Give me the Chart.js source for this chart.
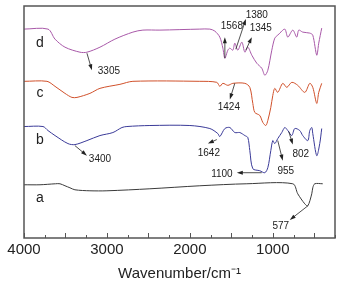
<!DOCTYPE html>
<html>
<head>
<meta charset="utf-8">
<script src="https://cdn.jsdelivr.net/npm/chart.js@4"></script>
<style>
  html, body { margin: 0; padding: 0; background: #fff; }
  #box { width: 359px; height: 283px; }
</style>
</head>
<body>
<div id="box"><canvas id="myChart"></canvas></div>
<script>
// spectra (wavenumber / transmittance, arbitrary units)
var aWave = [4000, 3807, 3620, 3566, 3506, 3446, 3386, 3205, 3000, 2482, 1880, 1313, 759, 699, 614, 578, 530, 518, 494, 398];
var aVal  = [53, 53, 54, 54, 52, 50, 48, 47, 47, 49, 52, 54, 54, 44, 34, 32, 44, 50, 54, 54];

var bWave = [4000, 3771, 3711, 3626, 3470, 3386, 3241, 3084, 2928, 2819, 2759, 2482, 2000, 1759, 1663, 1639, 1578, 1518, 1458, 1398, 1337, 1301, 1277, 1241, 1157, 1096, 1060, 1024, 1000, 976, 940, 892, 855, 819, 771, 735, 675, 639, 578, 554, 530, 518, 470, 434, 410];
var bVal  = [111, 111, 107, 102, 94, 93, 97, 102, 105, 110, 111, 112, 112, 109, 104, 101, 109, 110, 105, 105, 102, 100, 87, 69, 67, 65, 70, 87, 97, 94, 99, 105, 110, 107, 102, 109, 107, 102, 97, 107, 110, 104, 82, 94, 109];

var cWave = [4000, 3723, 3626, 3506, 3422, 3361, 3205, 3084, 2843, 2687, 1880, 1675, 1639, 1602, 1542, 1482, 1337, 1277, 1241, 1217, 1157, 1120, 1084, 1060, 1024, 1000, 976, 940, 880, 831, 771, 699, 614, 554, 518, 470, 446, 410];
var cVal  = [156, 156, 151, 144, 140, 140, 144, 149, 153, 156, 156, 155, 151, 154, 152, 154, 154, 150, 134, 125, 122, 115, 112, 117, 130, 142, 149, 145, 154, 150, 155, 152, 145, 154, 150, 134, 145, 154];

var dWave = [4000, 3711, 3626, 3506, 3325, 3241, 3084, 2904, 2687, 2566, 2361, 1880, 1759, 1699, 1639, 1602, 1578, 1542, 1518, 1482, 1458, 1422, 1373, 1337, 1301, 1253, 1193, 1133, 1096, 1060, 1012, 976, 940, 916, 855, 819, 759, 711, 687, 639, 554, 518, 470, 446, 410];
var dVal  = [208, 208, 198, 190, 185, 185, 190, 198, 205, 207, 207, 208, 208, 206, 200, 189, 179, 187, 189, 187, 194, 187, 195, 185, 190, 182, 174, 169, 162, 167, 187, 199, 202, 204, 208, 200, 207, 200, 207, 205, 204, 202, 182, 194, 209];

var xTicks = [4000, 3000, 2000, 1000];

// curve names and peak labels: text, text anchor, arrow start, arrow end
var curveNames = [['d', 3807, 194], ['c', 3807, 144], ['b', 3807, 97], ['a', 3807, 40]];
var peakLabels = [
    ['3305', 2976, 166, [3241, 184], [3181, 167]],
    ['1568', 1494, 211, [1578, 179], [1578, 200]],
    ['1380', 1193, 222, [1446, 188], [1325, 218]],
    ['1345', 1145, 209, [1325, 187], [1253, 200]],
    ['1424', 1530, 130, [1458, 154], [1518, 138]],
    ['3400', 3084, 78, [3386, 92], [3241, 82]],
    ['1642', 1771, 84, [1675, 98], [1783, 94]],
    ['1100', 1614, 63, [1133, 65], [1434, 65]],
    ['955', 843, 66, [940, 97], [880, 77]],
    ['802', 663, 83, [807, 106], [759, 93]],
    ['577', 904, 12, [578, 32], [795, 18]]
];

function pts(w, v) {
    return w.map(function (x, i) { return { x: x, y: v[i] }; });
}

var framePlugin = {
    id: 'frame',
    afterDraw: function (chart) {
        var c = chart.ctx, a = chart.chartArea;
        var xs = chart.scales.x, ys = chart.scales.y;
        c.save();
        // inward ticks on the bottom axis
        c.strokeStyle = '#555';
        c.lineWidth = 1;
        for (var w = 250; w <= 4000; w += 250) {
            var px = Math.round(xs.getPixelForValue(w)) + 0.5;
            var len = (w % 500 === 0) ? 5 : 3;
            c.beginPath();
            c.moveTo(px, a.bottom);
            c.lineTo(px, a.bottom - len);
            c.stroke();
        }
        c.lineWidth = 1.5;
        c.strokeRect(a.left, a.top, a.right - a.left, a.bottom - a.top);

        // curve letters
        c.fillStyle = '#222';
        c.font = '14px "Liberation Sans", Arial, sans-serif';
        c.textAlign = 'center';
        c.textBaseline = 'middle';
        curveNames.forEach(function (n) {
            c.fillText(n[0], xs.getPixelForValue(n[1]), ys.getPixelForValue(n[2]));
        });

        // peak labels with arrows
        c.font = '10px "Liberation Sans", Arial, sans-serif';
        peakLabels.forEach(function (p) {
            c.fillStyle = '#222';
            c.fillText(p[0], xs.getPixelForValue(p[1]), ys.getPixelForValue(p[2]));
            var x0 = xs.getPixelForValue(p[3][0]), y0 = ys.getPixelForValue(p[3][1]);
            var x1 = xs.getPixelForValue(p[4][0]), y1 = ys.getPixelForValue(p[4][1]);
            var ang = Math.atan2(y1 - y0, x1 - x0);
            c.strokeStyle = '#222';
            c.lineWidth = 0.8;
            c.beginPath();
            c.moveTo(x0, y0);
            c.lineTo(x1 - 3 * Math.cos(ang), y1 - 3 * Math.sin(ang));
            c.stroke();
            c.beginPath();
            c.moveTo(x1, y1);
            c.lineTo(x1 - 6 * Math.cos(ang) + 2 * Math.sin(ang), y1 - 6 * Math.sin(ang) - 2 * Math.cos(ang));
            c.lineTo(x1 - 6 * Math.cos(ang) - 2 * Math.sin(ang), y1 - 6 * Math.sin(ang) + 2 * Math.cos(ang));
            c.closePath();
            c.fill();
        });
        c.restore();
    }
};

var line = function (data, color) {
    return {
        data: data,
        borderColor: color,
        borderWidth: 1,
        pointRadius: 0,
        tension: 0.3,
        fill: false
    };
};

var ctx = document.getElementById('myChart').getContext('2d');
new Chart(ctx, {
    type: 'line',
    data: {
        datasets: [
            line(pts(aWave, aVal), '#3a3a3a'),
            line(pts(bWave, bVal), '#3a3a98'),
            line(pts(cWave, cVal), '#d0502a'),
            line(pts(dWave, dVal), '#a858a8')
        ]
    },
    options: {
        responsive: true,
        maintainAspectRatio: false,
        animation: false,
        layout: { padding: { left: 24, right: 24, top: 6, bottom: 0 } },
        plugins: { legend: { display: false }, tooltip: { enabled: false } },
        scales: {
            x: {
                type: 'linear',
                reverse: true,
                min: 250,
                max: 4000,
                grid: { display: false, drawTicks: false },
                border: { display: false },
                ticks: {
                    stepSize: 250,
                    autoSkip: false,
                    maxRotation: 0,
                    padding: 3,
                    color: '#222',
                    font: { family: '"Liberation Sans", Arial, sans-serif', size: 15 },
                    callback: function (v) { return xTicks.indexOf(v) >= 0 ? String(v) : ''; }
                },
                title: {
                    display: true,
                    text: 'Wavenumber/cm⁻¹',
                    color: '#222',
                    padding: { top: 3, bottom: 0 },
                    font: { family: '"Liberation Sans", Arial, sans-serif', size: 15 }
                }
            },
            y: { display: false, min: 0, max: 231 }
        }
    },
    plugins: [framePlugin]
});
</script>
</body>
</html>
